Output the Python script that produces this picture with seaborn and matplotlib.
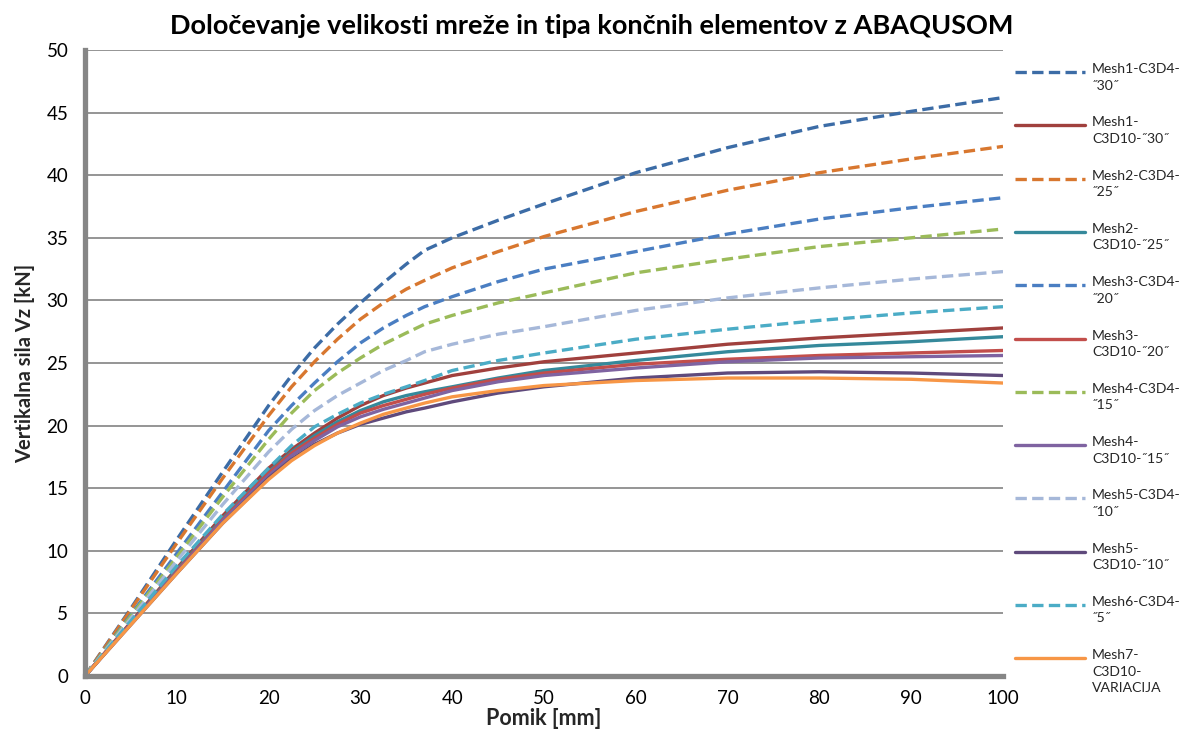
import numpy as np
import pandas as pd
import matplotlib
matplotlib.use("Agg")
import matplotlib.pyplot as plt
from matplotlib.lines import Line2D
import seaborn as sns

# Displacement [mm] at which the force readings were taken
pomik = [0, 5, 10, 15, 20, 22.5, 25, 27.5, 30, 32.5, 35, 37, 40, 45, 50, 60, 70, 80, 90, 100]

serije = [
    "Mesh1-C3D4-\n˝30˝",
    "Mesh1-\nC3D10-˝30˝",
    "Mesh2-C3D4-\n˝25˝",
    "Mesh2-\nC3D10-˝25˝",
    "Mesh3-C3D4-\n˝20˝",
    "Mesh3-\nC3D10-˝20˝",
    "Mesh4-C3D4-\n˝15˝",
    "Mesh4-\nC3D10-˝15˝",
    "Mesh5-C3D4-\n˝10˝",
    "Mesh5-\nC3D10-˝10˝",
    "Mesh6-C3D4-\n˝5˝",
    "Mesh7-\nC3D10-\nVARIACIJA",
]

# Vertical force Vz [kN] for each mesh
mesh1_c3d4 = [0, 5.4, 10.9, 16.3, 21.6, 24.0, 26.2, 28.1, 29.8, 31.4, 32.9, 34.0, 35.0, 36.4, 37.7, 40.2, 42.2, 43.9, 45.1, 46.2]
mesh1_c3d10 = [0, 4.3, 8.6, 12.8, 16.6, 18.1, 19.4, 20.6, 21.6, 22.4, 23.0, 23.4, 24.0, 24.6, 25.1, 25.8, 26.5, 27.0, 27.4, 27.8]
mesh2_c3d4 = [0, 5.3, 10.6, 15.8, 20.8, 23.1, 25.1, 26.9, 28.5, 29.8, 30.9, 31.6, 32.6, 33.9, 35.1, 37.1, 38.8, 40.2, 41.3, 42.3]
mesh2_c3d10 = [0, 4.2, 8.5, 12.6, 16.3, 17.9, 19.2, 20.3, 21.2, 21.9, 22.4, 22.7, 23.1, 23.8, 24.4, 25.2, 25.9, 26.4, 26.7, 27.1]
mesh3_c3d4 = [0, 4.9, 9.8, 14.7, 19.6, 21.6, 23.4, 25.1, 26.6, 27.8, 28.8, 29.5, 30.3, 31.5, 32.5, 33.9, 35.3, 36.5, 37.4, 38.2]
mesh3_c3d10 = [0, 4.2, 8.4, 12.5, 16.2, 17.8, 19.0, 20.1, 21.0, 21.6, 22.1, 22.5, 23.0, 23.7, 24.2, 24.9, 25.3, 25.6, 25.8, 26.0]
mesh4_c3d4 = [0, 4.8, 9.5, 14.3, 18.9, 21.0, 22.8, 24.2, 25.4, 26.5, 27.4, 28.1, 28.8, 29.8, 30.6, 32.2, 33.3, 34.3, 35.0, 35.7]
mesh4_c3d10 = [0, 4.2, 8.3, 12.4, 16.0, 17.6, 18.8, 19.9, 20.7, 21.3, 21.8, 22.2, 22.8, 23.5, 24.0, 24.6, 25.1, 25.4, 25.5, 25.6]
mesh5_c3d4 = [0, 4.6, 9.2, 13.7, 17.9, 19.7, 21.2, 22.4, 23.4, 24.4, 25.2, 25.9, 26.5, 27.3, 27.9, 29.2, 30.2, 31.0, 31.7, 32.3]
mesh5_c3d10 = [0, 4.1, 8.2, 12.2, 15.8, 17.3, 18.5, 19.4, 20.1, 20.6, 21.1, 21.4, 21.9, 22.6, 23.1, 23.8, 24.2, 24.3, 24.2, 24.0]
mesh6_c3d4 = [0, 4.4, 8.8, 12.9, 16.6, 18.4, 19.9, 20.9, 21.8, 22.5, 23.1, 23.6, 24.4, 25.2, 25.8, 26.9, 27.7, 28.4, 29.0, 29.5]
mesh7_c3d10 = [0, 4.1, 8.2, 12.2, 15.7, 17.2, 18.4, 19.4, 20.2, 20.9, 21.4, 21.8, 22.3, 22.8, 23.2, 23.6, 23.8, 23.8, 23.7, 23.4]

vrednosti = [mesh1_c3d4, mesh1_c3d10, mesh2_c3d4, mesh2_c3d10, mesh3_c3d4, mesh3_c3d10,
             mesh4_c3d4, mesh4_c3d10, mesh5_c3d4, mesh5_c3d10, mesh6_c3d4, mesh7_c3d10]

barve = ["#3C6CA6", "#A0403D", "#D8772F", "#35899B", "#4A7EC2", "#C24E4B",
         "#9BBB59", "#7F63A1", "#A6B8D9", "#5F4A7C", "#4BACC6", "#F79646"]
crtkano = [True, False, True, False, True, False, True, False, True, False, True, False]

sns.set_style("white")
plt.rcParams["font.family"] = ["Lato", "DejaVu Sans"]

df = pd.DataFrame({
    "Pomik": np.tile(pomik, len(serije)),
    "Sila": np.concatenate(vrednosti),
    "Serija": np.repeat(serije, len(pomik)),
})

dash_vzorec = (3.4, 1.6)
paleta = dict(zip(serije, barve))
crte = {s: (dash_vzorec if d else "") for s, d in zip(serije, crtkano)}

W, H = 1183, 738
fig = plt.figure(figsize=(W / 100, H / 100), dpi=100)
ax = fig.add_axes([85 / W, 1 - 676 / H, (1003 - 85) / W, (676 - 50) / H])

sns.lineplot(data=df, x="Pomik", y="Sila", hue="Serija", style="Serija",
             hue_order=serije, style_order=serije, palette=paleta, dashes=crte,
             linewidth=2.4, sort=False, estimator=None, legend=False, ax=ax)

ax.set_xlim(0, 100)
ax.set_ylim(0, 50)
ax.set_xticks(np.arange(0, 101, 10))
ax.set_yticks(np.arange(0, 51, 5))
ax.yaxis.grid(True, color="#8C8C8C", linewidth=1.3)
ax.xaxis.grid(False)
ax.set_axisbelow(True)
for side in ("top", "right"):
    ax.spines[side].set_visible(False)
for side in ("left", "bottom"):
    ax.spines[side].set_color("#868686")
    ax.spines[side].set_linewidth(3.8)
ax.tick_params(axis="both", length=0, labelsize=13.5, colors="black")
ax.tick_params(axis="y", pad=12)
ax.tick_params(axis="x", pad=10)

ax.set_xlabel("Pomik [mm]", fontsize=15.5, fontweight="bold", labelpad=1)
ax.set_ylabel("Vertikalna sila Vz [kN]", fontsize=14.5, fontweight="bold", labelpad=8)
fig.text(0.5, 1 - 26 / H, "Določevanje velikosti mreže in tipa končnih elementov z ABAQUSOM",
         ha="center", va="center", fontsize=19.5, fontweight="bold", color="black")

# Legend to the right of the plot area, handle aligned with the first text line
for i, (ime, barva, d) in enumerate(zip(serije, barve, crtkano)):
    yc = 72 + 53.3 * i
    yf = 1 - yc / H
    ln = Line2D([1015 / W, 1085 / W], [yf, yf], transform=fig.transFigure,
                color=barva, linewidth=2.4, solid_capstyle="round")
    if d:
        ln.set_dashes(dash_vzorec)
    fig.add_artist(ln)
    fig.text(1092 / W, 1 - (yc - 9) / H, ime, ha="left", va="top",
             fontsize=10.1, linespacing=1.45)

fig.savefig("out.png", dpi=100)
